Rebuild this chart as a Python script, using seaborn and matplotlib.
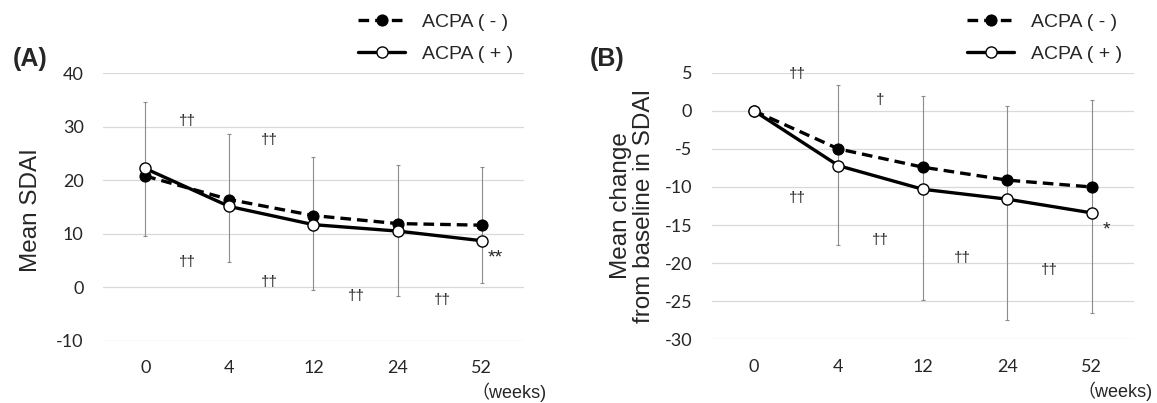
import numpy as np
import pandas as pd
import matplotlib
matplotlib.use("Agg")
import matplotlib.pyplot as plt
import seaborn as sns

# data
weeks = ["0", "4", "12", "24", "52"]
groups = ["ACPA ( - )", "ACPA ( + )"]

# (A) mean SDAI
sdai_neg = [20.8, 16.4, 13.4, 11.9, 11.6]
sdai_pos = [22.2, 15.1, 11.7, 10.5, 8.7]
sdai_err_lo = [9.5, 4.7, -0.5, -1.7, 0.7]
sdai_err_hi = [34.7, 28.6, 24.4, 22.8, 22.4]

# (B) mean change from baseline
chg_neg = [0.0, -5.0, -7.4, -9.1, -10.0]
chg_pos = [0.0, -7.2, -10.3, -11.6, -13.4]
chg_err_lo = [np.nan, -17.6, -24.9, -27.5, -26.6]
chg_err_hi = [np.nan, 3.4, 2.0, 0.6, 1.4]

# significance marks
a_mark_x = [0.5, 1.48, 0.5, 1.48, 2.51, 3.54, 4.16]
a_mark_y = [31.1, 27.5, 4.8, 1.05, -1.6, -2.4, 6.6]
a_mark_txt = ["††", "††", "††", "††", "††", "††", "**"]
b_mark_x = [0.51, 1.5, 0.51, 1.5, 2.47, 3.5, 4.17]
b_mark_y = [4.83, 1.42, -11.4, -16.9, -19.3, -20.9, -14.9]
b_mark_txt = ["††", "†", "††", "††", "††", "††", "*"]

sns.set_style("white")
plt.rcParams['font.family'] = ['Liberation Sans', 'DejaVu Sans', 'Noto Sans CJK JP']
plt.rcParams['axes.unicode_minus'] = False

fig = plt.figure(figsize=(11.57, 4.03), dpi=100)
ax_a = fig.add_axes([0.0892, 0.1546, 0.3634, 0.6635])
ax_b = fig.add_axes([0.6152, 0.158, 0.3649, 0.6615])


def make_df(neg, pos):
    rows = []
    for i, w in enumerate(weeks):
        rows.append({"pos": i, "week": w, "group": groups[0], "value": neg[i]})
        rows.append({"pos": i, "week": w, "group": groups[1], "value": pos[i]})
    return pd.DataFrame(rows)


def draw_panel(ax, neg, pos, lo, hi, ylim, yticks):
    df = make_df(neg, pos)
    x = np.arange(len(weeks))
    lo = np.array(lo, dtype=float)
    hi = np.array(hi, dtype=float)
    mid = (lo + hi) / 2
    half = (hi - lo) / 2
    ok = ~np.isnan(mid)
    ax.errorbar(x[ok], mid[ok], yerr=half[ok], fmt="none", ecolor="#8c8c8c",
                elinewidth=0.8, capsize=1.3, capthick=0.8, zorder=1)
    sns.lineplot(data=df[df.group == groups[0]], x="pos", y="value", ax=ax,
                 color="black", linewidth=2.4, linestyle=(0, (3.2, 1.8)),
                 marker="o", markersize=8, markerfacecolor="black",
                 markeredgecolor="black", label=groups[0], zorder=3)
    sns.lineplot(data=df[df.group == groups[1]], x="pos", y="value", ax=ax,
                 color="black", linewidth=2.4, linestyle="-",
                 marker="o", markersize=8, markerfacecolor="white",
                 markeredgecolor="black", markeredgewidth=1.0,
                 label=groups[1], zorder=4)
    ax.set_xlim(-0.5, 4.5)
    ax.set_ylim(*ylim)
    ax.set_yticks(yticks)
    ax.set_xticks(x)
    ax.set_xticklabels(weeks)
    ax.set_xlabel("")
    ax.grid(axis="y", color="#d9d9d9", linewidth=0.9)
    ax.grid(axis="x", visible=False)
    for s in ax.spines.values():
        s.set_visible(False)
    ax.tick_params(length=0, labelsize=13)
    ax.tick_params(axis="y", pad=14)
    ax.tick_params(axis="x", pad=14)
    for t in ax.get_xticklabels() + ax.get_yticklabels():
        t.set_fontfamily(["Lato", "DejaVu Sans"])
    ax.legend().remove()


def add_marks(ax, xs, ys, txts):
    for xx, yy, tt in zip(xs, ys, txts):
        if "*" in tt:
            # asterisks sit high in their box, so nudge them down
            ax.annotate(tt, (xx, yy), xytext=(0, -4), textcoords="offset points",
                        fontsize=14, ha="center", va="center")
        else:
            ax.text(xx, yy, tt, fontsize=11, ha="center", va="center")


draw_panel(ax_a, sdai_neg, sdai_pos, sdai_err_lo, sdai_err_hi,
           (-10, 40), [-10, 0, 10, 20, 30, 40])
draw_panel(ax_b, chg_neg, chg_pos, chg_err_lo, chg_err_hi,
           (-30, 5), [-30, -25, -20, -15, -10, -5, 0, 5])

ax_a.set_ylabel("Mean SDAI", fontsize=17.5)
ax_a.yaxis.set_label_coords(-0.146, 0.49)
ax_b.set_ylabel("Mean change\nfrom baseline in SDAI", fontsize=17.5, linespacing=1.05)
ax_b.yaxis.set_label_coords(-0.135, 0.5)

add_marks(ax_a, a_mark_x, a_mark_y, a_mark_txt)
add_marks(ax_b, b_mark_x, b_mark_y, b_mark_txt)

ax_a.text(0.965, -0.191, "（weeks)", transform=ax_a.transAxes, fontsize=13,
          ha="center", va="center")
ax_b.text(0.955, -0.195, "（weeks)", transform=ax_b.transAxes, fontsize=13,
          ha="center", va="center")

fig.text(30 / 1157, 1 - 59 / 403, "(A)", fontsize=18, fontweight="bold",
         ha="center", va="center")
fig.text(607 / 1157, 1 - 59 / 403, "(B)", fontsize=18, fontweight="bold",
         ha="center", va="center")

# legends above each panel
for ax, x0 in [(ax_a, 358 / 1157), (ax_b, 967 / 1157)]:
    h, l = ax.get_legend_handles_labels()
    fig.legend(h, l, loc="upper left", bbox_to_anchor=(x0, 0.968),
               bbox_transform=fig.transFigure, frameon=False, fontsize=14,
               borderpad=0, borderaxespad=0, handlelength=2.42,
               handletextpad=0.86, labelspacing=0.76)

fig.savefig("out.png", dpi=100)
